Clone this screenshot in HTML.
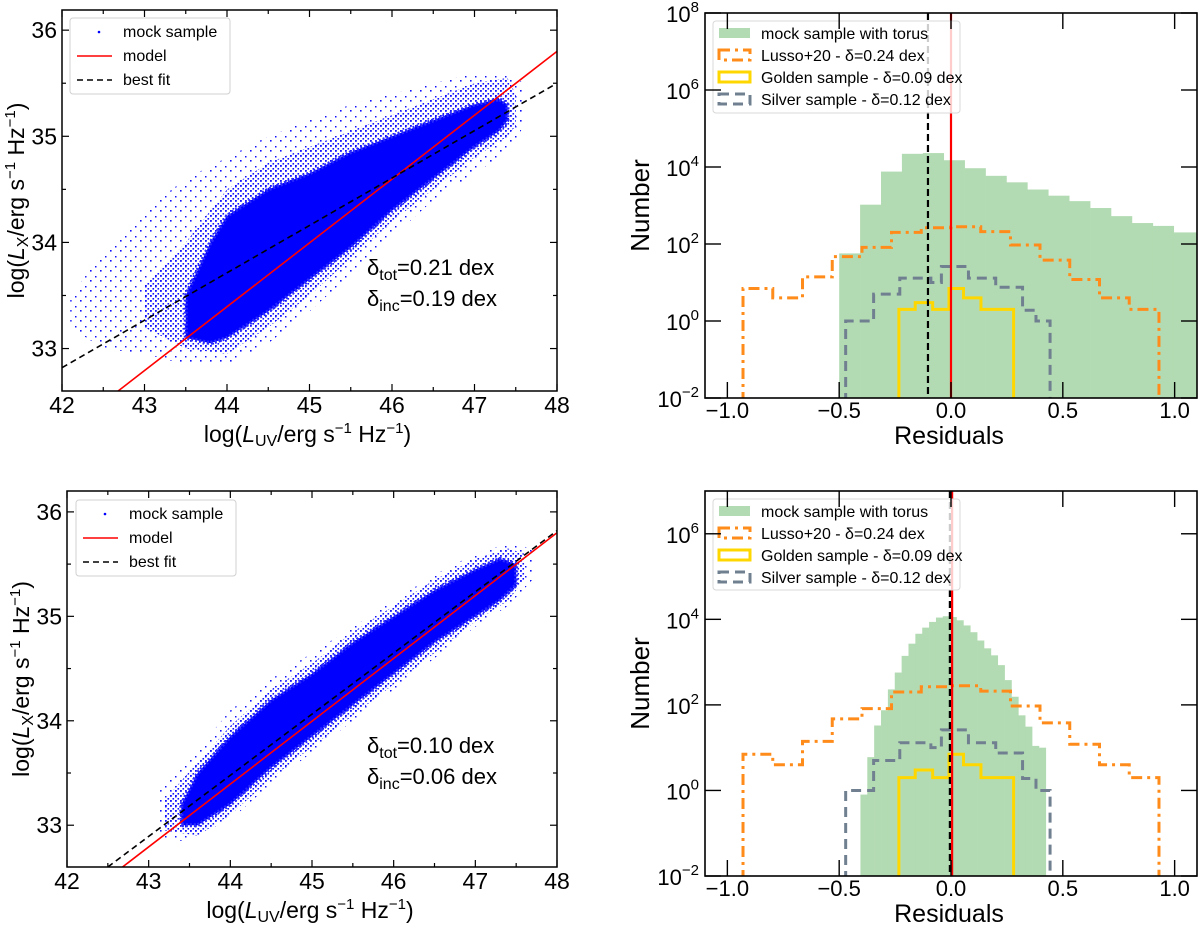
<!DOCTYPE html>
<html><head><meta charset="utf-8"><style>
html,body{margin:0;padding:0;background:#fff;}
svg{display:block;font-family:"Liberation Sans",sans-serif;}
</style></head><body>
<svg id="fig" width="1200" height="932" viewBox="0 0 1200 932" xmlns="http://www.w3.org/2000/svg">
<defs>
<pattern id="halo" width="10" height="10" patternUnits="userSpaceOnUse">
<rect x="0" y="0" width="1.6" height="1.6" fill="#1010ff"/>
<rect x="5" y="6" width="1.5" height="1.5" fill="#1010ff"/>
</pattern>
<pattern id="mid" width="5" height="5" patternUnits="userSpaceOnUse">
<rect x="0" y="0" width="1.8" height="1.8" fill="#1010ff"/>
<rect x="2.5" y="3" width="1.6" height="1.6" fill="#1010ff"/>
</pattern>
<clipPath id="cTL"><rect x="62" y="10" width="495" height="381"/></clipPath>
<clipPath id="cBL"><rect x="67" y="491" width="490" height="376"/></clipPath>
<clipPath id="cTR"><rect x="705" y="13" width="492" height="385"/></clipPath>
<clipPath id="cBR"><rect x="705" y="491" width="492" height="385"/></clipPath>
</defs>
</svg>
<script>
// ---------- scatter panels data ----------
const tlCoreX=[43.5,43.8,44,44.5,45,45.5,46,46.5,47,47.3,47.4];
const tlCoreUp=[33.5,34.0,34.25,34.5,34.65,34.85,35.0,35.15,35.3,35.35,35.3];
const tlCoreLo=[33.1,33.05,33.1,33.35,33.65,33.95,34.3,34.6,34.9,35.05,35.15];
const tlMidX=[43.0,43.5,44,44.5,45,45.5,46,46.5,47,47.4,47.5];
const tlMidUp=[33.6,34.0,34.5,34.75,34.9,35.05,35.2,35.35,35.5,35.55,35.4];
const tlMidLo=[33.2,33.0,32.95,33.2,33.5,33.85,34.2,34.5,34.8,35.0,35.1];
const tlHaloX=[42.1,42.5,43,43.5,44,44.5,45,45.5,46,46.5,47,47.4,47.6];
const tlHaloUp=[33.5,33.9,34.3,34.6,34.8,35.0,35.15,35.3,35.4,35.5,35.6,35.6,35.5];
const tlHaloLo=[33.2,33.0,32.95,32.85,32.85,33.05,33.35,33.7,34.05,34.4,34.65,34.85,35.1];
const tlModel=[[42.68,32.6],[48,35.8]];
const tlFit=[[42,32.82],[48,35.5]];
const blCoreX=[43.4,43.6,44,44.5,45,45.5,46,46.5,47,47.3,47.5];
const blCoreUp=[33.2,33.5,33.85,34.2,34.45,34.75,35.0,35.25,35.45,35.55,35.5];
const blCoreLo=[33.0,33.0,33.2,33.55,33.85,34.15,34.45,34.75,35.0,35.15,35.3];
const blMidX=[43.2,43.6,44,44.5,45,45.5,46,46.5,47,47.4,47.6];
const blMidUp=[33.25,33.6,33.95,34.3,34.55,34.85,35.1,35.35,35.55,35.65,35.6];
const blMidLo=[32.95,32.9,33.1,33.45,33.75,34.05,34.35,34.65,34.95,35.15,35.35];
const blHaloX=[43.1,43.4,44,44.5,45,45.5,46,46.5,47,47.4,47.7];
const blHaloUp=[33.3,33.55,34.1,34.4,34.65,34.9,35.15,35.4,35.6,35.7,35.65];
const blHaloLo=[32.9,32.85,33.05,33.4,33.7,34.0,34.3,34.6,34.9,35.1,35.35];
const blModel=[[42.68,32.6],[48,35.8]];
const blFit=[[42.5,32.6],[48,35.82]];
const scatterXTicks=[42,43,44,45,46,47,48];
const scatterYTicks=[33,34,35,36];
// ---------- histogram data ----------
const greenTopStart=-0.5, greenTopWidth=0.0935;
const greenTopCounts=[57,1050,7600,22000,23000,15000,9300,5900,4000,2600,1800,1300,860,530,350,295,200,200];
const greenBotStart=-0.405, greenBotWidth=0.0307;
const greenBotCounts=[0.8,6,33,75,230,570,1400,2700,4600,6400,8700,11000,11800,11300,9500,7200,5000,3200,2100,1440,850,380,155,57,31,11,10];
const lussoEdges=[-0.93,-0.797,-0.664,-0.531,-0.398,-0.266,-0.133,0.0,0.133,0.266,0.398,0.531,0.664,0.797,0.93];
const lussoCounts=[7,4,14,47,82,200,265,280,210,94,38,12,4,2];
const goldenEdges=[-0.233,-0.16,-0.082,-0.009,0.056,0.134,0.28];
const goldenCounts=[2,3,2,7,4,2];
const silverEdges=[-0.471,-0.346,-0.229,-0.09,-0.043,0.078,0.20,0.32,0.38,0.443];
const silverCounts=[1,5,13,10,26,13,7.5,1.9,1];
const topFitLine=-0.103, topModelLine=0.0;
const botFitLine=-0.005, botModelLine=0.005;
const histXTicks=[-1.0,-0.5,0.0,0.5,1.0];
const histXLabels=["\u22121.0","\u22120.5","0.0","0.5","1.0"];
const topYExp=[-2,0,2,4,6,8];
const botYExp=[-2,0,2,4,6];

const NS="http://www.w3.org/2000/svg";
const svg=document.getElementById('fig');
function mk(tag,attrs,parent){const e=document.createElementNS(NS,tag);for(const k in attrs)e.setAttribute(k,attrs[k]);(parent||svg).appendChild(e);return e;}
function lin(d0,d1,p0,p1){return v=>p0+(v-d0)/(d1-d0)*(p1-p0);}
function logs(d0,d1,p0,p1){return v=>p0+(Math.log10(v)-d0)/(d1-d0)*(p1-p0);}

function scatterPanel(P,name){
  const g=mk('g',{});
  
  
  const X=lin(42,48,P.x0,P.x1), Y=lin(32.6,P.ytop,P.y1,P.y0);
  const cg=mk('g',{'clip-path':'url(#'+P.clip+')'},g);
  function poly(xs,up,lo){let pts=[];for(let i=0;i<xs.length;i++)pts.push(X(xs[i])+','+Y(up[i]));for(let i=xs.length-1;i>=0;i--)pts.push(X(xs[i])+','+Y(lo[i]));return pts.join(' ');}
  const h=mk('polygon',{points:poly(P.hx,P.hu,P.hl),fill:'url(#halo)'},cg);
  
  
  const md=mk('polygon',{points:poly(P.mx,P.mu,P.ml),fill:'url(#mid)'},cg);
  
  
  const c=mk('polygon',{points:poly(P.cx,P.cu,P.cl),fill:'#0000ff',stroke:'#2a2aff','stroke-width':4,'stroke-dasharray':'2,2','stroke-linejoin':'round'},cg);
  
  
  const m=mk('line',{x1:X(P.model[0][0]),y1:Y(P.model[0][1]),x2:X(P.model[1][0]),y2:Y(P.model[1][1]),stroke:'#ff0000','stroke-width':1.6},cg);
  
  
  const f=mk('line',{x1:X(P.fit[0][0]),y1:Y(P.fit[0][1]),x2:X(P.fit[1][0]),y2:Y(P.fit[1][1]),stroke:'#000','stroke-width':1.6,'stroke-dasharray':'6,4'},cg);
  
  
  mk('rect',{x:P.x0,y:P.y0,width:P.x1-P.x0,height:P.y1-P.y0,fill:'none',stroke:'#000','stroke-width':1.5},g);
  for(let v=42;v<=48;v+=0.5){const px=X(v),L=(v%1===0)?7:4;
    mk('line',{x1:px,y1:P.y1,x2:px,y2:P.y1-L,stroke:'#000','stroke-width':1.2},g);
    mk('line',{x1:px,y1:P.y0,x2:px,y2:P.y0+L,stroke:'#000','stroke-width':1.2},g);}
  for(let v=33;v<=36;v+=0.5){const py=Y(v),L=(v%1===0)?7:4;
    mk('line',{x1:P.x0,y1:py,x2:P.x0+L,y2:py,stroke:'#000','stroke-width':1.2},g);
    mk('line',{x1:P.x1,y1:py,x2:P.x1-L,y2:py,stroke:'#000','stroke-width':1.2},g);}
  scatterXTicks.forEach(v=>{const t=mk('text',{x:X(v),y:P.y1+22,'font-size':23,'text-anchor':'middle'},g);t.textContent=v;
    
    });
  scatterYTicks.forEach(v=>{const t=mk('text',{x:P.x0-5,y:Y(v)+8,'font-size':23,'text-anchor':'end'},g);t.textContent=v;
    
    });
  const xt=mk('text',{x:(P.x0+P.x1)/2-2,y:P.y1+51,'font-size':23,'text-anchor':'middle'},g);
  
  
  xt.innerHTML='log(<tspan font-style="italic">L</tspan><tspan font-size="16" dy="4">UV</tspan><tspan dy="-4">/erg s</tspan><tspan font-size="15" dy="-9">\u22121</tspan><tspan dy="9"> Hz</tspan><tspan font-size="15" dy="-9">\u22121</tspan><tspan dy="9">)</tspan>';
  const cy=(P.y0+P.y1)/2;
  const yt=mk('text',{x:0,y:0,'font-size':23,'text-anchor':'middle',transform:'translate('+(P.x0-38)+','+cy+') rotate(-90)'},g);
  
  
  yt.innerHTML='log(<tspan font-style="italic">L</tspan><tspan font-size="16" dy="4">X</tspan><tspan dy="-4">/erg s</tspan><tspan font-size="15" dy="-9">\u22121</tspan><tspan dy="9"> Hz</tspan><tspan font-size="15" dy="-9">\u22121</tspan><tspan dy="9">)</tspan>';
  const a1=mk('text',{x:367,y:P.ann,'font-size':22},g);
  
  
  a1.innerHTML='\u03b4<tspan font-size="16" dy="5">tot</tspan><tspan dy="-5">='+P.dtot+' dex</tspan>';
  const a2=mk('text',{x:367,y:P.ann+31,'font-size':22},g);
  
  
  a2.innerHTML='\u03b4<tspan font-size="16" dy="5">inc</tspan><tspan dy="-5">='+P.dinc+' dex</tspan>';
  const lg=mk('g',{},g);
  
  
  const L=P.leg;
  mk('rect',{x:L.x,y:L.y,width:160,height:76,rx:3,fill:'#fff','fill-opacity':0.85,stroke:'#d0d0d0','stroke-width':1},lg);
  mk('circle',{cx:L.x+29,cy:L.y+14,r:1.3,fill:'#0000ff'},lg);
  mk('line',{x1:L.x+7,y1:L.y+38,x2:L.x+42,y2:L.y+38,stroke:'#ff0000','stroke-width':1.6},lg);
  mk('line',{x1:L.x+7,y1:L.y+62,x2:L.x+42,y2:L.y+62,stroke:'#000','stroke-width':1.6,'stroke-dasharray':'6,4'},lg);
  [['mock sample',19],['model',43],['best fit',67]].forEach(([s,dy],i)=>{const t=mk('text',{x:L.x+53,y:L.y+dy,'font-size':16},lg);t.textContent=s;
    
    });
}

function histPanel(P,name){
  const g=mk('g',{});
  
  
  const X=lin(-1.1,1.1,P.x0,P.x1), Y=logs(-2,P.ymaxExp,P.y1,P.y0);
  const cg=mk('g',{'clip-path':'url(#'+P.clip+')'},g);
  P.gCounts.forEach((c,i)=>{const a=P.gStart+i*P.gWidth,b=a+P.gWidth;
    const r=mk('rect',{x:X(a),y:Y(c),width:X(b)-X(a)+0.3,height:P.y1-Y(c),fill:'#b3dbb3'},cg);
    
    });
  function step(edges,counts,style,nm){let d='M'+X(edges[0])+','+(P.y1+5);
    counts.forEach((c,i)=>{d+=' L'+X(edges[i])+','+Y(c)+' L'+X(edges[i+1])+','+Y(c);});
    d+=' L'+X(edges[edges.length-1])+','+(P.y1+5);
    const p=mk('path',Object.assign({d:d,fill:'none'},style),cg);
    
    }
  step(lussoEdges,lussoCounts,{stroke:'#ff8c1a','stroke-width':3,'stroke-dasharray':'11,5,3,5'},'lusso-step');
  step(goldenEdges,goldenCounts,{stroke:'#ffd700','stroke-width':3},'golden-step');
  step(silverEdges,silverCounts,{stroke:'#708090','stroke-width':3,'stroke-dasharray':'10,6'},'silver-step');
  const vf=mk('line',{x1:X(P.fitV),y1:P.y0,x2:X(P.fitV),y2:P.y1,stroke:'#000','stroke-width':2.2,'stroke-dasharray':'7,4'},cg);
  
  
  const vm=mk('line',{x1:X(P.modV),y1:P.y0,x2:X(P.modV),y2:P.y1,stroke:'#ff0000','stroke-width':2.2},cg);
  
  
  const lg=mk('g',{},g);
  
  
  const L=P.leg;
  mk('rect',{x:L.x,y:L.y,width:247,height:L.h,rx:3,fill:'#fff','fill-opacity':0.8,stroke:'#d8d8d8','stroke-width':1},lg);
  const rows=[['mock sample with torus',{fill:'#b3dbb3'}],
    ['Lusso+20 - \u03b4=0.24 dex',{fill:'none',stroke:'#ff8c1a','stroke-width':3,'stroke-dasharray':'11,5,3,5'}],
    ['Golden sample - \u03b4=0.09 dex',{fill:'none',stroke:'#ffd700','stroke-width':3}],
    ['Silver sample - \u03b4=0.12 dex',{fill:'none',stroke:'#708090','stroke-width':3,'stroke-dasharray':'10,6'}]];
  rows.forEach((r,i)=>{const cy=L.y+12+i*L.dy;
    mk('rect',Object.assign({x:L.x+6,y:cy-5,width:31,height:10},r[1]),lg);
    const t=mk('text',{x:L.x+48,y:cy+6,'font-size':16},lg);t.textContent=r[0];
    
    });
  mk('rect',{x:P.x0,y:P.y0,width:P.x1-P.x0,height:P.y1-P.y0,fill:'none',stroke:'#000','stroke-width':1.6},g);
  histXTicks.forEach((v,i)=>{const px=X(v);
    mk('line',{x1:px,y1:P.y1,x2:px,y2:P.y1-16,stroke:'#000','stroke-width':1.4},g);
    mk('line',{x1:px,y1:P.y0,x2:px,y2:P.y0+16,stroke:'#000','stroke-width':1.4},g);
    const t=mk('text',{x:px,y:P.y1+20,'font-size':22,'text-anchor':'middle'},g);t.textContent=histXLabels[i];
    
    });
  P.yExp.forEach(e=>{const py=Y(Math.pow(10,e));
    mk('line',{x1:P.x0,y1:py,x2:P.x0+16,y2:py,stroke:'#000','stroke-width':1.4},g);
    mk('line',{x1:P.x1,y1:py,x2:P.x1-16,y2:py,stroke:'#000','stroke-width':1.4},g);
    const t=mk('text',{x:P.x0-6,y:py+9,'font-size':22,'text-anchor':'end'},g);
    t.innerHTML='10<tspan font-size="15" dy="-10">'+(e<0?'\u2212'+(-e):e)+'</tspan>';
    
    });
  const xt=mk('text',{x:949,y:P.y1+46,'font-size':25,'text-anchor':'middle'},g);xt.textContent='Residuals';
  
  
  const yt=mk('text',{x:0,y:0,'font-size':26,'text-anchor':'middle',transform:'translate(649,'+((P.y0+P.y1)/2)+') rotate(-90)'},g);yt.textContent='Number';
  
  
}

scatterPanel({x0:62,x1:557,y0:10,y1:391,ytop:36.19,clip:'cTL',cx:tlCoreX,cu:tlCoreUp,cl:tlCoreLo,mx:tlMidX,mu:tlMidUp,ml:tlMidLo,hx:tlHaloX,hu:tlHaloUp,hl:tlHaloLo,model:tlModel,fit:tlFit,ann:275,dtot:'0.21',dinc:'0.19',leg:{x:70,y:18}},'scatter-panel-top');
scatterPanel({x0:67,x1:557,y0:491,y1:867,ytop:36.2,clip:'cBL',cx:blCoreX,cu:blCoreUp,cl:blCoreLo,mx:blMidX,mu:blMidUp,ml:blMidLo,hx:blHaloX,hu:blHaloUp,hl:blHaloLo,model:blModel,fit:blFit,ann:753,dtot:'0.10',dinc:'0.06',leg:{x:76,y:500}},'scatter-panel-bottom');
histPanel({x0:705,x1:1197,y0:13,y1:398,ymaxExp:8,clip:'cTR',gStart:greenTopStart,gWidth:greenTopWidth,gCounts:greenTopCounts,fitV:topFitLine,modV:topModelLine,yExp:topYExp,leg:{x:713,y:21,h:92,dy:22}},'histogram-panel-top');
histPanel({x0:705,x1:1197,y0:491,y1:876,ymaxExp:7,clip:'cBR',gStart:greenBotStart,gWidth:greenBotWidth,gCounts:greenBotCounts,fitV:botFitLine,modV:botModelLine,yExp:botYExp,leg:{x:713,y:499,h:91,dy:22}},'histogram-panel-bottom');
</script>
</body></html>
